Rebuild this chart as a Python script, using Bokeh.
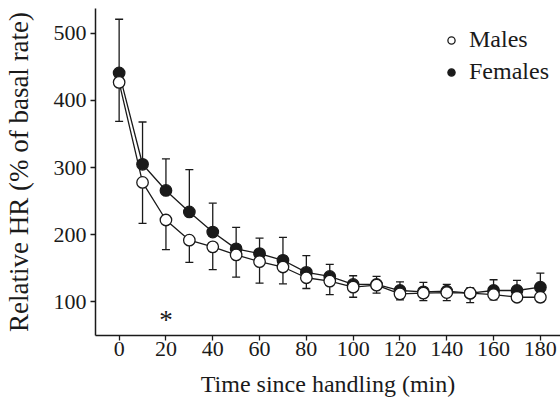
from bokeh.plotting import figure
from bokeh.models import (ColumnDataSource, Whisker, TeeHead, FixedTicker, Legend,
                          LegendItem, Range1d)
from bokeh.core.properties import value
from bokeh.embed import file_html
from bokeh.resources import INLINE

times = [0, 10, 20, 30, 40, 50, 60, 70, 80, 90, 100, 110, 120, 130, 140, 150, 160, 170, 180]
females = [441, 305, 266, 234, 204, 179, 172, 162, 144, 138, 126, 126, 117, 115, 116, 113, 117, 117, 122]
female_se = [80, 63, 47, 63, 43, 32, 23, 34, 25, 18, 13, 12, 13, 14, 10, 8, 16, 15, 21]
males = [427, 278, 222, 192, 182, 170, 160, 152, 136, 131, 122, 125, 112, 113, 114, 113, 111, 107, 107]
male_se = [58, 61, 44, 33, 34, 33, 32, 25, 16, 20, 15, 12, 9, 11, 12, 14, 8, 5, 7]
x_ticks = [0, 20, 40, 60, 80, 100, 120, 140, 160, 180]
y_ticks = [100, 200, 300, 400, 500]
sig_times = [20]
sig_marks = ["*"]
sig_y = [73]

FONT = "Liberation Serif"
INK = "#1a1a1a"

src = ColumnDataSource(dict(
    t=times, f=females, m=males,
    f_up=[v + e for v, e in zip(females, female_se)],
    m_lo=[v - e for v, e in zip(males, male_se)],
))

p = figure(width=560, height=405, output_backend="svg", toolbar_location=None,
           x_range=Range1d(-10.1, 188.6), y_range=Range1d(50, 537),
           min_border_left=94, min_border_right=0, min_border_top=8,
           min_border_bottom=70)
p.outline_line_color = None
p.xgrid.grid_line_color = None
p.ygrid.grid_line_color = None

# error bars
wf = Whisker(source=src, base="t", upper="f_up", lower="f", dimension="height",
             upper_head=TeeHead(size=8, line_color=INK, line_width=1.3),
             lower_head=None, line_color=INK, line_width=1.3, level="underlay")
wm = Whisker(source=src, base="t", upper="m", lower="m_lo", dimension="height",
             lower_head=TeeHead(size=8, line_color=INK, line_width=1.3),
             upper_head=None, line_color=INK, line_width=1.3, level="underlay")
p.add_layout(wf)
p.add_layout(wm)

p.line("t", "f", source=src, line_color=INK, line_width=1.3)
p.line("t", "m", source=src, line_color=INK, line_width=1.3)
rf = p.scatter("t", "f", source=src, size=11.5, marker="circle",
               fill_color=INK, line_color=INK, line_width=1.3)
rm = p.scatter("t", "m", source=src, size=11.5, marker="circle",
               fill_color="white", line_color=INK, line_width=1.3)

p.text(x=sig_times, y=sig_y, text=sig_marks, text_font=value(FONT),
       text_font_size="27px", text_align="center", text_baseline="middle",
       text_color=INK)

legend = Legend(items=[LegendItem(label="Males", renderers=[rm]),
                       LegendItem(label="Females", renderers=[rf])],
                location=(347, 250), border_line_color=None,
                background_fill_alpha=0, label_text_font=FONT,
                label_text_font_size="24px", label_text_color=INK,
                glyph_width=18, glyph_height=18, label_height=25,
                spacing=5, padding=0, margin=0, label_standoff=9)
p.add_layout(legend)

for ax in (p.xaxis[0], p.yaxis[0]):
    ax.axis_line_width = 1.5
    ax.axis_line_color = INK
    ax.major_tick_line_color = INK
    ax.major_tick_line_width = 1.3
    ax.major_tick_out = 5
    ax.major_tick_in = 0
    ax.minor_tick_line_color = None
    ax.major_label_text_font = FONT
    ax.major_label_text_font_size = "22px"
    ax.major_label_text_color = INK
    ax.axis_label_text_font = FONT
    ax.axis_label_text_font_style = "normal"
    ax.axis_label_text_color = INK

p.xaxis[0].axis_label_text_font_size = "24px"
p.yaxis[0].axis_label_text_font_size = "27px"
p.xaxis[0].ticker = FixedTicker(ticks=x_ticks)
p.yaxis[0].ticker = FixedTicker(ticks=y_ticks)
p.xaxis[0].axis_label = "Time since handling (min)"
p.yaxis[0].axis_label = "Relative HR (% of basal rate)"
p.xaxis[0].major_label_standoff = 1
p.yaxis[0].major_label_standoff = 4
p.xaxis[0].axis_label_standoff = 12
p.yaxis[0].axis_label_standoff = 17

open("out.html", "w").write(file_html(p, INLINE))
